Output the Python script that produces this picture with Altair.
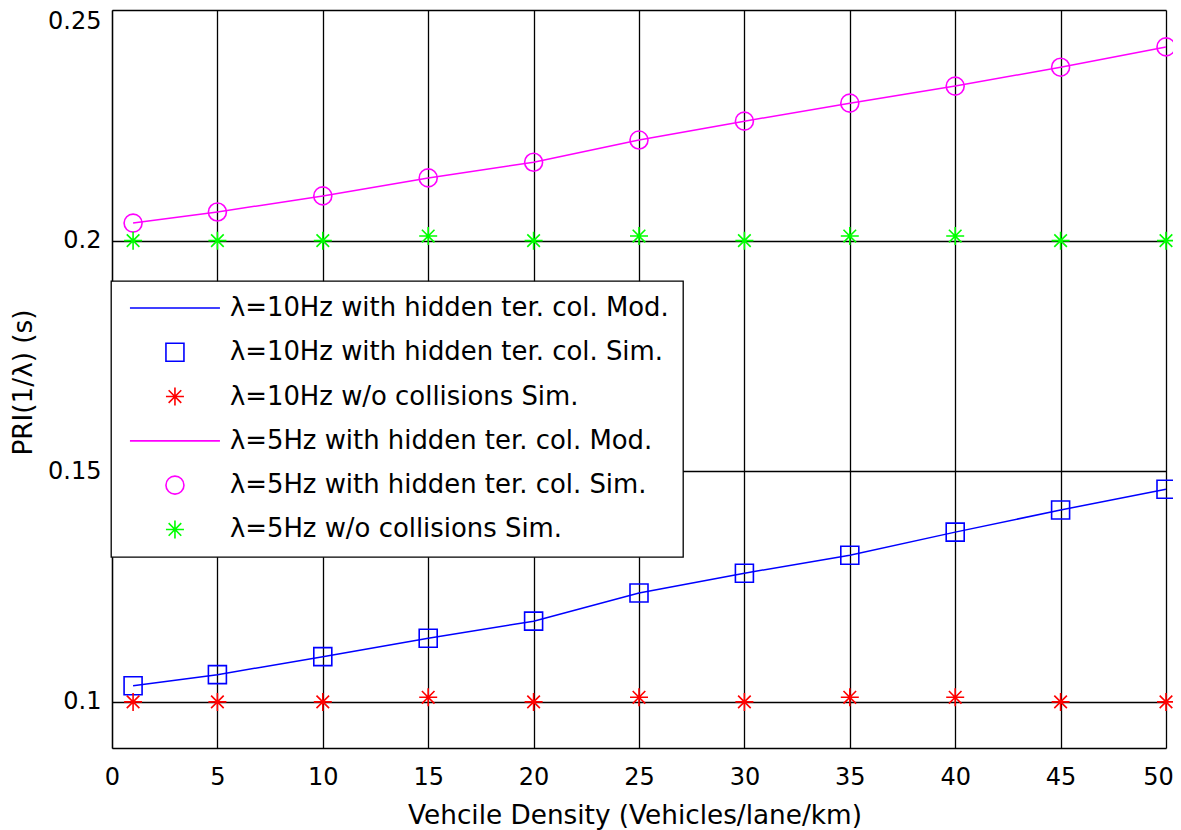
import altair as alt
import pandas as pd

# ---- data ----
density = [1, 5, 10, 15, 20, 25, 30, 35, 40, 45, 50]
mod_10hz = [0.1035, 0.1059, 0.1098, 0.1138, 0.1175, 0.1236, 0.1279, 0.1318, 0.1368, 0.1416, 0.1461]
sim_10hz = [0.1035, 0.1059, 0.1098, 0.1138, 0.1175, 0.1236, 0.1279, 0.1318, 0.1368, 0.1416, 0.1461]
nocol_10hz = [0.100, 0.100, 0.100, 0.101, 0.100, 0.101, 0.100, 0.101, 0.101, 0.100, 0.100]
mod_5hz = [0.2038, 0.2062, 0.2097, 0.2136, 0.2170, 0.2218, 0.2259, 0.2298, 0.2335, 0.2376, 0.2420]
sim_5hz = [0.2038, 0.2062, 0.2097, 0.2136, 0.2170, 0.2218, 0.2259, 0.2298, 0.2335, 0.2376, 0.2420]
nocol_5hz = [0.200, 0.200, 0.200, 0.201, 0.200, 0.201, 0.200, 0.201, 0.201, 0.200, 0.200]

series_names = [
    "λ=10Hz with hidden ter. col. Mod.",
    "λ=10Hz with hidden ter. col. Sim.",
    "λ=10Hz w/o collisions Sim.",
    "λ=5Hz with hidden ter. col. Mod.",
    "λ=5Hz with hidden ter. col. Sim.",
    "λ=5Hz w/o collisions Sim.",
]
series_values = [mod_10hz, sim_10hz, nocol_10hz, mod_5hz, sim_5hz, nocol_5hz]
series_colors = ["#0000ff", "#0000ff", "#ff0000", "#ff00ff", "#ff00ff", "#00ff00"]

x_ticks = [0, 5, 10, 15, 20, 25, 30, 35, 40, 45, 50]
y_ticks = [0.1, 0.15, 0.2, 0.25]

LINE_SYM = "M-5,0L5,0"
STAR = "M-1,0L1,0M0,-1L0,1M-0.7,-0.7L0.7,0.7M-0.7,0.7L0.7,-0.7"
series_shapes = [LINE_SYM, "square", STAR, LINE_SYM, "circle", STAR]

rows = []
for name, vals in zip(series_names, series_values):
    for xv, yv in zip(density, vals):
        rows.append({"x": xv, "y": yv, "series": name})
df = pd.DataFrame(rows)

FONT = "DejaVu Sans"

color_scale = alt.Scale(domain=series_names, range=series_colors)
shape_scale = alt.Scale(domain=series_names, range=series_shapes)

x_enc = alt.X(
    "x:Q",
    scale=alt.Scale(domain=[0, 50], nice=False, zero=False),
    axis=alt.Axis(
        values=x_ticks,
        title="Vehcile Density (Vehicles/lane/km)",
        titleX=522.5,
        titleY=75,
        titleAlign="center",
        titleBaseline="alphabetic",
        labelPadding=17,
        labelFlush=False,
        labelOffset={"condition": {"test": "datum.value >= 49.9", "value": -8}, "value": 0},
    ),
)
y_enc = alt.Y(
    "y:Q",
    scale=alt.Scale(domain=[0.09, 0.25], nice=False, zero=False),
    axis=alt.Axis(
        values=y_ticks,
        format=".2~f",
        title="PRI(1/λ) (s)",
        titleX=-81,
        titleY=372,
        titleAngle=270,
        titleAlign="center",
        titleBaseline="alphabetic",
        labelPadding=11,
        labelFlush=False,
        labelOffset={"condition": {"test": "datum.value >= 0.249", "value": 11}, "value": 0},
    ),
)

# model curves (solid lines), one layer each with its own colour
line_layers = []
for i in (0, 3):
    line_layers.append(
        alt.Chart(df)
        .transform_filter(alt.datum.series == series_names[i])
        .mark_line(strokeWidth=1.5, color=series_colors[i])
        .encode(x=x_enc, y=y_enc)
    )

legend = alt.Legend(
    title=None,
    orient="none",
    legendX=-1,
    legendY=271,
    direction="vertical",
    padding=14,
    strokeColor="black",
    fillColor="white",
    labelFont=FONT,
    labelFontSize=25.9,
    labelColor="black",
    labelLimit=1000,
    symbolOffset=37,
    labelOffset=42,
    rowPadding=17.3,
    symbolSize=324,
    symbolStrokeWidth=1.6,
    symbolFillColor="transparent",
    cornerRadius=0,
)

points = (
    alt.Chart(df)
    .transform_filter(
        alt.FieldOneOfPredicate(field="series", oneOf=[series_names[1], series_names[2], series_names[4], series_names[5]])
    )
    .mark_point(filled=False, size=324, strokeWidth=1.6, opacity=1)
    .encode(
        x=x_enc,
        y=y_enc,
        color=alt.Color("series:N", scale=color_scale, legend=legend),
        shape=alt.Shape("series:N", scale=shape_scale, legend=legend),
    )
)

chart = (
    alt.layer(*line_layers, points)
    .properties(
        width=1054,
        height=738,
        autosize="none",
        padding={"left": 104, "top": 2, "right": 7, "bottom": 82},
        background="white",
    )
    .configure_view(stroke=None)
    .configure_legend(strokeWidth=1.3)
    .configure_axis(
        labelFont=FONT,
        labelFontSize=24,
        labelColor="black",
        titleFont=FONT,
        titleFontSize=26.3,
        titleFontWeight="normal",
        titleColor="black",
        domainColor="black",
        domainWidth=1.3,
        gridColor="black",
        gridWidth=1.3,
        gridOpacity=1,
        grid=True,
        ticks=False,
        tickSize=0,
    )
)

chart.save("out.html", embed_options={"renderer": "svg", "actions": False})
